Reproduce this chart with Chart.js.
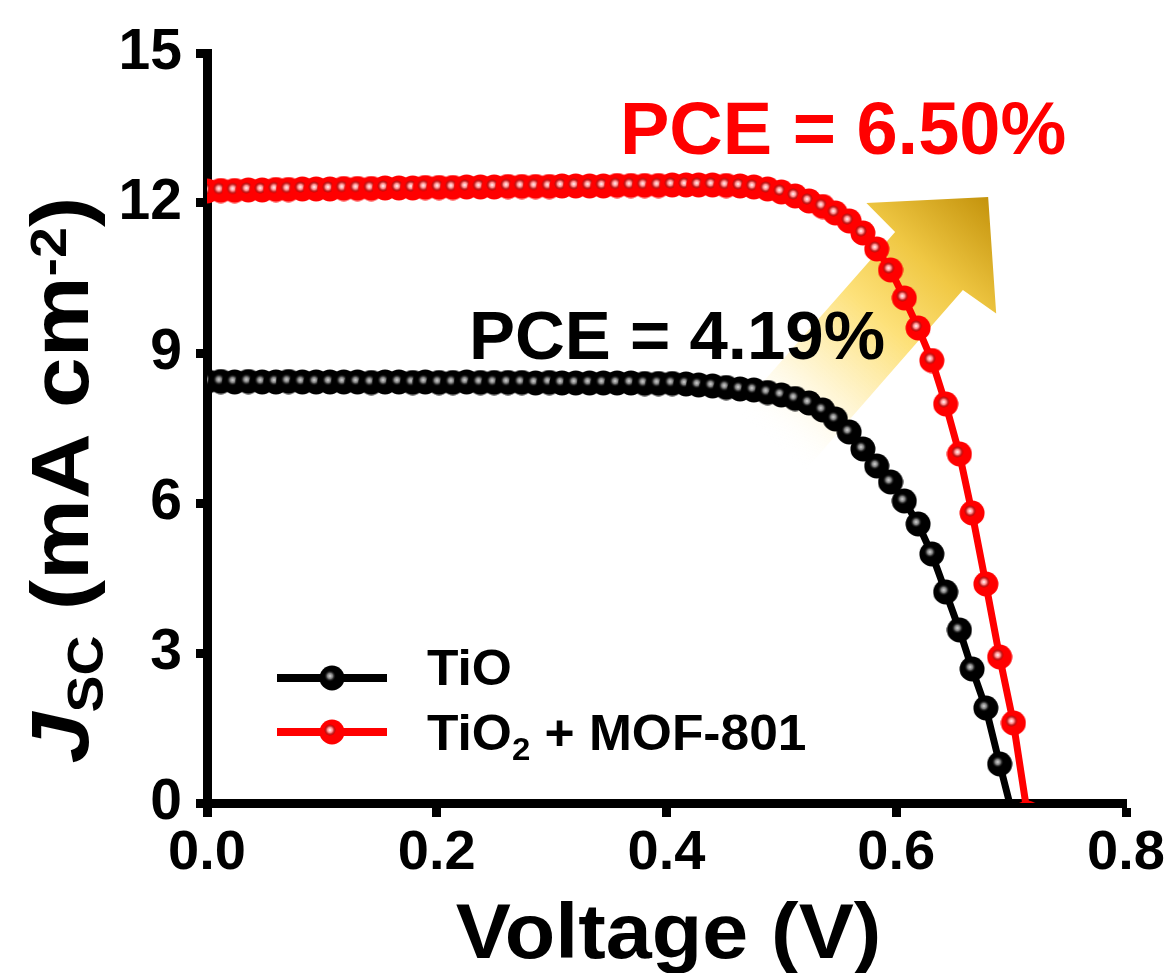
<!DOCTYPE html>
<html>
<head>
<meta charset="utf-8">
<script src="https://cdn.jsdelivr.net/npm/chart.js@4.4.1/dist/chart.umd.min.js"></script>
<style>
  html, body { margin: 0; padding: 0; background: #fff; }
  #chart { display: block; }
</style>
</head>
<body>
<canvas id="chart" width="1168" height="973"></canvas>
<script>
const voltage = [
  0.000, 0.012, 0.024, 0.036, 0.048, 0.060, 0.071, 0.083, 0.095, 0.107,
  0.119, 0.131, 0.143, 0.155, 0.167, 0.179, 0.190, 0.202, 0.214, 0.226,
  0.238, 0.250, 0.262, 0.274, 0.286, 0.298, 0.309, 0.321, 0.333, 0.345,
  0.357, 0.369, 0.381, 0.393, 0.405, 0.417, 0.428, 0.440, 0.452, 0.464,
  0.476, 0.488, 0.500, 0.512, 0.524, 0.536, 0.547, 0.559, 0.571, 0.583,
  0.595, 0.607, 0.619, 0.631, 0.643, 0.655, 0.666, 0.678, 0.690, 0.702,
  0.714
];

const jscTiO = [
  8.43, 8.43, 8.42, 8.43, 8.42, 8.42, 8.43, 8.42, 8.42, 8.42,
  8.42, 8.42, 8.41, 8.42, 8.42, 8.41, 8.42, 8.41, 8.41, 8.42,
  8.41, 8.41, 8.41, 8.41, 8.40, 8.41, 8.40, 8.40, 8.40, 8.40,
  8.40, 8.40, 8.39, 8.39, 8.39, 8.38, 8.36, 8.34, 8.31, 8.28,
  8.26, 8.21, 8.16, 8.09, 8.00, 7.86, 7.68, 7.42, 7.08, 6.74,
  6.42, 6.04, 5.58, 4.98, 4.22, 3.46, 2.68, 1.90, 0.78, -0.30
];

const jscMof = [
  12.24, 12.25, 12.25, 12.26, 12.26, 12.27, 12.27, 12.28, 12.28, 12.28,
  12.29, 12.29, 12.29, 12.30, 12.30, 12.30, 12.31, 12.31, 12.31, 12.32,
  12.32, 12.32, 12.33, 12.33, 12.33, 12.33, 12.34, 12.34, 12.34, 12.34,
  12.35, 12.35, 12.35, 12.35, 12.36, 12.36, 12.36, 12.36, 12.35, 12.34,
  12.32, 12.28, 12.22, 12.14, 12.04, 11.93, 11.80, 11.64, 11.40, 11.08,
  10.66, 10.10, 9.50, 8.85, 7.98, 6.98, 5.80, 4.38, 2.92, 1.60,
  -0.20
];

const xTicks = [0, 0.2, 0.4, 0.6, 0.8];
const yTicks = [0, 3, 6, 9, 12, 15];

const pceTiO = "PCE = 4.19%";
const pceMof = "PCE = 6.50%";

// arrow outline in data units (V, mA cm-2)
const arrowOutline = [
  [0.461, 7.82], [0.599, 11.42], [0.574, 12.00], [0.680, 12.12],
  [0.687, 9.79], [0.658, 10.26], [0.521, 6.66]
];

const FONT = '"Liberation Sans", Arial, Helvetica, sans-serif';

function makeMarker(fill, shine, glow) {
  const c = document.createElement("canvas");
  c.width = 26;
  c.height = 26;
  const g = c.getContext("2d");
  g.fillStyle = fill;
  g.beginPath();
  g.arc(13, 13, 12.5, 0, Math.PI * 2);
  g.fill();
  const spot = g.createRadialGradient(11, 11, 0, 11, 11, 6);
  spot.addColorStop(0, shine);
  spot.addColorStop(0.45, glow);
  spot.addColorStop(1, "rgba(0,0,0,0)");
  g.fillStyle = spot;
  g.beginPath();
  g.arc(11, 11, 6, 0, Math.PI * 2);
  g.fill();
  return c;
}

const blackMarker = makeMarker("#000000", "#d8d8d8", "rgba(140,140,140,0.9)");
const redMarker = makeMarker("#ff0000", "#ffffff", "rgba(255,150,150,0.9)");

function toPoints(values) {
  return values.map((j, i) => ({ x: voltage[i], y: j }));
}

// draw a run of text pieces, each with its own size and baseline shift;
// stretch widens the run along its baseline
function drawPieces(ctx, pieces, x, y, align, stretch = 1) {
  const widths = pieces.map((p) => {
    ctx.font = `${p.italic ? "italic " : ""}bold ${p.size}px ${FONT}`;
    return ctx.measureText(p.text).width;
  });
  const total = widths.reduce((a, b) => a + b, 0);
  ctx.save();
  ctx.translate(x, y);
  ctx.scale(stretch, 1);
  let cx = align === "center" ? -total / 2 : 0;
  ctx.textAlign = "left";
  ctx.textBaseline = "alphabetic";
  pieces.forEach((p, i) => {
    ctx.font = `${p.italic ? "italic " : ""}bold ${p.size}px ${FONT}`;
    ctx.fillText(p.text, cx, p.dy || 0);
    cx += widths[i];
  });
  ctx.restore();
}

const decorPlugin = {
  id: "decor",
  beforeDatasetsDraw(chart) {
    const { ctx, scales } = chart;
    const pts = arrowOutline.map(([v, j]) => [scales.x.getPixelForValue(v), scales.y.getPixelForValue(j)]);
    const baseX = (pts[0][0] + pts[6][0]) / 2;
    const baseY = (pts[0][1] + pts[6][1]) / 2;
    const grad = ctx.createLinearGradient(baseX, baseY, pts[3][0], pts[3][1]);
    grad.addColorStop(0, "rgba(255,255,255,0)");
    grad.addColorStop(0.22, "rgba(255,246,214,0.9)");
    grad.addColorStop(0.5, "#fde17a");
    grad.addColorStop(0.72, "#f0c844");
    grad.addColorStop(1, "#c4930c");
    ctx.save();
    ctx.beginPath();
    pts.forEach(([px, py], i) => (i === 0 ? ctx.moveTo(px, py) : ctx.lineTo(px, py)));
    ctx.closePath();
    ctx.fillStyle = grad;
    ctx.fill();
    ctx.restore();
  },
  afterDatasetsDraw(chart) {
    const { ctx, scales } = chart;
    ctx.save();
    ctx.fillStyle = "#ff0000";
    drawPieces(ctx, [{ text: pceMof, size: 74 }],
      scales.x.getPixelForValue(0.3595), scales.y.getPixelForValue(12.98), "left");
    ctx.fillStyle = "#000000";
    drawPieces(ctx, [{ text: pceTiO, size: 69 }],
      scales.x.getPixelForValue(0.228), scales.y.getPixelForValue(8.88), "left");
    ctx.restore();
  },
  afterDraw(chart) {
    const { ctx, chartArea } = chart;
    ctx.save();

    // legend
    const rows = [
      { color: "#000000", marker: blackMarker, y: 678, base: 685,
        pieces: [{ text: "TiO", size: 50 }] },
      { color: "#ff0000", marker: redMarker, y: 732, base: 750,
        pieces: [{ text: "TiO", size: 50 }, { text: "2", size: 32, dy: 10 }, { text: " + MOF-801", size: 50 }] }
    ];
    const lx = chartArea.left + 70;
    rows.forEach((r) => {
      ctx.strokeStyle = r.color;
      ctx.lineWidth = 8;
      ctx.beginPath();
      ctx.moveTo(lx, r.y);
      ctx.lineTo(lx + 110, r.y);
      ctx.stroke();
      ctx.drawImage(r.marker, lx + 55 - 13, r.y - 13);
      ctx.fillStyle = "#000000";
      drawPieces(ctx, r.pieces, lx + 150, r.base, "left", 1.03);
    });

    // x axis title
    ctx.fillStyle = "#000000";
    drawPieces(ctx, [{ text: "Voltage (V)", size: 78 }], (chartArea.left + chartArea.right) / 2 + 2, 958, "center", 1.06);

    // y axis title
    ctx.translate(88, 480);
    ctx.rotate(-Math.PI / 2);
    drawPieces(ctx, [
      { text: "J", size: 82, italic: true },
      { text: "SC", size: 50, dy: 15 },
      { text: " (mA cm", size: 82 },
      { text: "-2", size: 50, dy: -22 },
      { text: ")", size: 82 }
    ], 0, 0, "center", 1.11);
    ctx.restore();
  }
};

const axisGrid = (tickLength) => ({
  display: true,
  drawOnChartArea: false,
  drawTicks: true,
  tickLength,
  tickWidth: 9,
  tickColor: "#000000",
  color: "#000000"
});

new Chart(document.getElementById("chart"), {
  type: "line",
  data: {
    datasets: [
      {
        label: "TiO",
        data: toPoints(jscTiO),
        borderColor: "#000000",
        backgroundColor: "#000000",
        borderWidth: 7,
        pointStyle: blackMarker,
        pointRadius: 13,
        tension: 0,
        clip: 0
      },
      {
        label: "TiO2 + MOF-801",
        data: toPoints(jscMof),
        borderColor: "#ff0000",
        backgroundColor: "#ff0000",
        borderWidth: 7,
        pointStyle: redMarker,
        pointRadius: 13,
        tension: 0,
        clip: 0
      }
    ]
  },
  options: {
    responsive: false,
    animation: false,
    events: [],
    layout: { padding: { top: 53, right: 42, bottom: 0, left: 0 } },
    plugins: {
      legend: { display: false },
      tooltip: { enabled: false }
    },
    scales: {
      x: {
        type: "linear",
        min: 0,
        max: 0.8,
        afterBuildTicks: (s) => { s.ticks = xTicks.map((v) => ({ value: v })); },
        afterFit: (s) => { s.height = 170; s.paddingLeft = 0; s.paddingRight = 0; },
        grid: axisGrid(14),
        border: { display: true, color: "#000000", width: 9 },
        ticks: {
          color: "#000000",
          padding: 3,
          maxRotation: 0,
          font: { family: FONT, size: 56, weight: "bold" },
          callback: (v) => Number(v).toFixed(1)
        }
      },
      y: {
        type: "linear",
        min: 0,
        max: 15,
        afterBuildTicks: (s) => { s.ticks = yTicks.map((v) => ({ value: v })); },
        afterFit: (s) => { s.width = 207; s.paddingTop = 0; s.paddingBottom = 0; },
        grid: axisGrid(11),
        border: { display: true, color: "#000000", width: 9 },
        ticks: {
          color: "#000000",
          padding: 14,
          font: { family: FONT, size: 57, weight: "bold" },
          callback: (v) => String(v)
        }
      }
    }
  },
  plugins: [decorPlugin]
});
</script>
</body>
</html>
